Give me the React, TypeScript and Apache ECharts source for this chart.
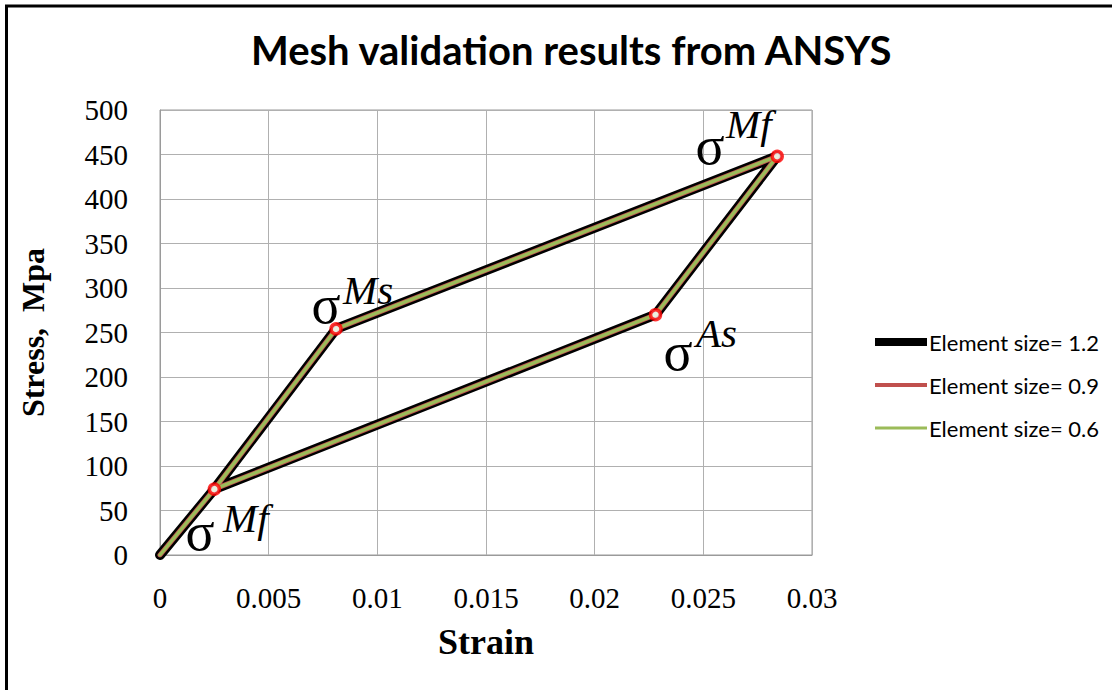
import React, { useEffect, useRef } from "react";
import * as echarts from "echarts";

const strain = [0, 0.0025, 0.0081, 0.0284, 0.0228, 0.0025];
const stress = [0, 74, 254, 448, 270, 74];
const markerStrain = [0.0025, 0.0081, 0.0284, 0.0228];
const markerStress = [74, 254, 448, 270];
const seriesNames = ["Element size= 1.2", "Element size= 0.9", "Element size= 0.6"];
const seriesColors = ["#000000", "#c0504d", "#9bbb59"];
const seriesWidths = [10, 5, 3.5];
const legendWidths = [8, 4, 3];
const xTicks = { min: 0, max: 0.03, interval: 0.005 };
const yTicks = { min: 0, max: 500, interval: 50 };

export default function App() {
  const ref = useRef<HTMLDivElement>(null);
  useEffect(() => {
    if (!ref.current) return;
    const chart = echarts.init(ref.current, null, { renderer: "svg" });
    const lineData = strain.map((x, i) => [x, stress[i]]);
    const markers = markerStrain.map((x, i) => [x, markerStress[i]]);
    const serif = "Liberation Serif";
    const sigma = (x: number, y: number) => ({
      type: "text",
      x,
      y,
      z: 100,
      style: {
        text: "σ",
        fontFamily: serif,
        fontSize: 54,
        fill: "#000",
        align: "center",
        verticalAlign: "middle",
      },
    });
    const sup = (x: number, y: number, t: string) => ({
      type: "text",
      x,
      y,
      z: 100,
      style: {
        text: t,
        fontFamily: serif,
        fontStyle: "italic",
        fontSize: 41,
        fill: "#000",
        align: "left",
        verticalAlign: "middle",
      },
    });
    chart.setOption({
      animation: false,
      backgroundColor: "#ffffff",
      title: {
        text: "Mesh validation results from ANSYS",
        left: 246,
        top: 25,
        textStyle: { fontFamily: "Lato", fontWeight: "bold", fontSize: 40, color: "#000" },
      },
      grid: { left: 160, top: 110, width: 652, height: 445, show: true, borderColor: "#9a9a9a", borderWidth: 1 },
      xAxis: {
        type: "value",
        min: xTicks.min,
        max: xTicks.max,
        interval: xTicks.interval,
        name: "Strain",
        nameLocation: "middle",
        nameGap: 69,
        nameTextStyle: { fontFamily: serif, fontWeight: "bold", fontSize: 36, color: "#000" },
        axisLine: { show: true, lineStyle: { color: "#9a9a9a" } },
        axisTick: { show: false },
        splitLine: { show: true, lineStyle: { color: "#b0b0b0", width: 1 } },
        axisLabel: {
          fontFamily: serif,
          fontSize: 29,
          color: "#000",
          margin: 28,
          formatter: (v: number) => String(parseFloat(v.toFixed(3))),
        },
      },
      yAxis: {
        type: "value",
        min: yTicks.min,
        max: yTicks.max,
        interval: yTicks.interval,
        name: "Stress,  Mpa",
        nameLocation: "middle",
        nameGap: 111,
        nameTextStyle: { fontFamily: serif, fontWeight: "bold", fontSize: 32, color: "#000" },
        axisLine: { show: true, lineStyle: { color: "#9a9a9a" } },
        axisTick: { show: false },
        splitLine: { show: true, lineStyle: { color: "#b0b0b0", width: 1 } },
        axisLabel: { fontFamily: serif, fontSize: 29, color: "#000", margin: 32 },
      },
      legend: {
        orient: "vertical",
        left: 871,
        top: 331,
        padding: 0,
        itemWidth: 52,
        itemHeight: 10,
        itemGap: 21,
        itemStyle: { color: "rgba(0,0,0,0)", borderWidth: 0, opacity: 0 },
        data: seriesNames.map((name, i) => ({
          name,
          lineStyle: { width: legendWidths[i], cap: "butt", color: seriesColors[i] },
        })),
        textStyle: { fontFamily: "Lato", fontSize: 22, color: "#000", padding: [0, 0, 0, -3] },
      },
      series: [
        ...seriesNames.map((name, i) => ({
          name,
          type: "line",
          data: lineData,
          symbol: "none",
          lineStyle: { color: seriesColors[i], width: seriesWidths[i], join: "round", cap: "round" },
          itemStyle: { color: seriesColors[i] },
          z: 2 + i,
        })),
        {
          name: "markers",
          type: "scatter",
          data: markers,
          symbol: "circle",
          symbolSize: 10,
          itemStyle: { color: "#ffffff", borderColor: "#ff0000", borderWidth: 3.5 },
          z: 10,
        },
      ],
      graphic: [
        {
          type: "rect",
          shape: { x: 6.5, y: 6, width: 1200, height: 1000 },
          style: { fill: "none", stroke: "#000", lineWidth: 3 },
          z: 200,
        },
        sigma(200, 532),
        sup(223, 518, "Mf"),
        sigma(326, 305),
        sup(343, 290, "Ms"),
        sigma(710, 146),
        sup(726, 124, "Mf"),
        sigma(678, 352),
        sup(696, 333, "As"),
      ],
    });
    return () => chart.dispose();
  }, []);
  return <div ref={ref} style={{ position: "fixed", left: 0, top: 0, width: 1112, height: 690 }} />;
}
